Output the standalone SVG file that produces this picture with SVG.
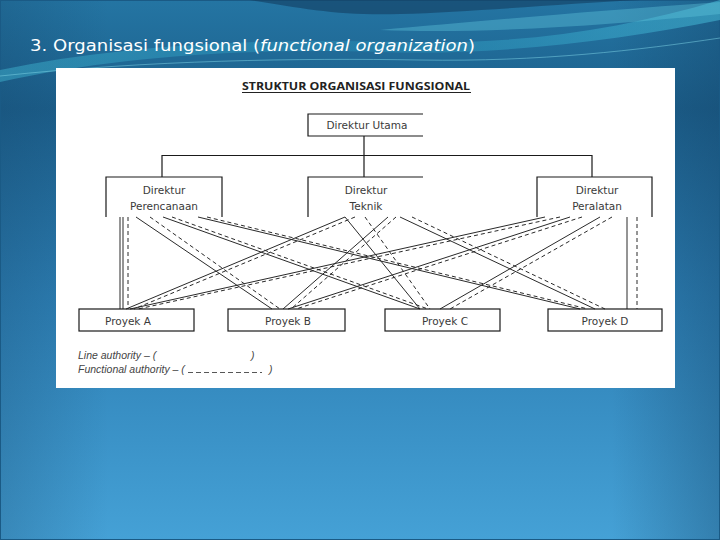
<svg xmlns="http://www.w3.org/2000/svg" width="720" height="540" viewBox="0 0 720 540">
<defs>
<linearGradient id="bg" x1="0" y1="0" x2="0" y2="1">
<stop offset="0" stop-color="#2475a3"/>
<stop offset="0.2" stop-color="#1c5f8b"/>
<stop offset="0.55" stop-color="#2d7fb4"/>
<stop offset="1" stop-color="#45a1d6"/>
</linearGradient>
<linearGradient id="side" x1="0" y1="0" x2="1" y2="0">
<stop offset="0" stop-color="#123f63" stop-opacity="0.25"/>
<stop offset="0.15" stop-color="#123f63" stop-opacity="0"/>
<stop offset="0.85" stop-color="#123f63" stop-opacity="0"/>
<stop offset="1" stop-color="#123f63" stop-opacity="0.35"/>
</linearGradient>
<linearGradient id="swoosh" x1="0" y1="0" x2="1" y2="0">
<stop offset="0" stop-color="#3fb3cf" stop-opacity="0.7"/>
<stop offset="0.5" stop-color="#2a9cc2" stop-opacity="0.5"/>
<stop offset="1" stop-color="#45b9d6" stop-opacity="0.8"/>
</linearGradient>
<style>
.title{font-family:"DejaVu Sans",sans-serif;font-size:16px;fill:#ffffff}
.box{fill:none;stroke:#1a1a1a;stroke-width:1.2}
.lbl{font-family:"DejaVu Sans",sans-serif;font-size:10.5px;fill:#3a3a3a;text-anchor:middle}
.hdr{font-family:"Open Sans",sans-serif;font-size:10.5px;font-weight:bold;fill:#222;text-anchor:middle}
.tree{fill:none;stroke:#1a1a1a;stroke-width:1.2}
.sol{fill:none;stroke:#2a2a2a;stroke-width:1}
.dsh{fill:none;stroke:#2a2a2a;stroke-width:1;stroke-dasharray:4 3}
.leg{font-family:"Liberation Sans",sans-serif;font-size:10.5px;font-style:italic;fill:#444}
</style>
</defs>
<rect x="0" y="0" width="720" height="540" fill="url(#bg)"/>
<rect x="0" y="0" width="720" height="540" fill="url(#side)"/>
<path d="M0,0 H720 V540 H0 Z" fill="none" stroke="#1a5a85" stroke-width="2"/>
<path d="M0,82 C120,55 260,48 380,52 C500,56 620,40 720,20 L720,0 C620,30 520,45 400,42 C260,38 120,45 0,70 Z" fill="url(#swoosh)" opacity="0.7"/>
<path d="M0,76 C150,60 300,58 420,60 C540,62 640,50 720,38" fill="none" stroke="#7fd6e8" stroke-width="1" opacity="0.5"/>
<path d="M250,0 C300,8 340,16 400,14 C470,12 560,4 640,0 Z" fill="#123e60" opacity="0.6"/>
<path d="M380,30 C470,22 580,12 720,2 L720,14 C600,26 480,34 380,30 Z" fill="#5ec6dc" opacity="0.4"/>
<text class="title" x="30" y="51" textLength="445" lengthAdjust="spacingAndGlyphs">3. Organisasi fungsional (<tspan font-style="italic">functional organization</tspan>)</text>
<rect x="56" y="68" width="619" height="320" fill="#ffffff"/>
<text class="hdr" x="356" y="90" textLength="228" lengthAdjust="spacingAndGlyphs">STRUKTUR ORGANISASI FUNGSIONAL</text>
<line x1="242" y1="92.5" x2="471" y2="92.5" stroke="#222" stroke-width="1"/>
<g id="tree">
<path class="tree" d="M364,136 V177 M162,177 V155.5 H592 V177"/>
</g>
<g id="direktur-utama">
<path class="box" d="M423,114 H308 V136 H423"/>
<text class="lbl" x="367" y="129">Direktur Utama</text>
</g>
<g id="direktur-perencanaan">
<path class="box" d="M106,217 V177 H222 V217"/>
<text class="lbl" x="164" y="194">Direktur</text>
<text class="lbl" x="164" y="210">Perencanaan</text>
</g>
<g id="direktur-teknik">
<path class="box" d="M308,217 V177 H423"/>
<text class="lbl" x="366" y="194">Direktur</text>
<text class="lbl" x="366" y="210">Teknik</text>
</g>
<g id="direktur-peralatan">
<path class="box" d="M537,217 V177 H652 V217"/>
<text class="lbl" x="597" y="194">Direktur</text>
<text class="lbl" x="597" y="210">Peralatan</text>
</g>
<g id="connectors">
<line class="sol" x1="120" y1="217" x2="120" y2="309"/>
<line class="sol" x1="123" y1="217" x2="123" y2="309"/>
<line class="dsh" x1="128" y1="217" x2="128" y2="309"/>
<line class="sol" x1="627" y1="217" x2="627" y2="309"/>
<line class="dsh" x1="637" y1="217" x2="637" y2="309"/>
<line class="sol" x1="136" y1="217" x2="272" y2="309"/>
<line class="dsh" x1="150" y1="217" x2="280" y2="309"/>
<line class="sol" x1="163" y1="217" x2="420" y2="309"/>
<line class="dsh" x1="172" y1="217" x2="428" y2="309"/>
<line class="sol" x1="198" y1="217" x2="580" y2="309"/>
<line class="dsh" x1="207" y1="217" x2="588" y2="309"/>
<line class="sol" x1="345" y1="217" x2="126" y2="309"/>
<line class="dsh" x1="355" y1="217" x2="134" y2="309"/>
<line class="sol" x1="388" y1="217" x2="283" y2="309"/>
<line class="dsh" x1="396" y1="217" x2="291" y2="309"/>
<line class="sol" x1="345" y1="217" x2="420" y2="309"/>
<line class="dsh" x1="365" y1="217" x2="430" y2="309"/>
<line class="sol" x1="400" y1="217" x2="595" y2="309"/>
<line class="dsh" x1="412" y1="217" x2="605" y2="309"/>
<line class="sol" x1="545" y1="217" x2="130" y2="309"/>
<line class="dsh" x1="560" y1="217" x2="138" y2="309"/>
<line class="sol" x1="570" y1="217" x2="288" y2="309"/>
<line class="dsh" x1="582" y1="217" x2="296" y2="309"/>
<line class="sol" x1="600" y1="217" x2="440" y2="309"/>
<line class="dsh" x1="612" y1="217" x2="450" y2="309"/>
</g>
<g id="proyek-a">
<rect class="box" x="79" y="309" width="115" height="22" fill="#fff"/>
<text class="lbl" x="128" y="325">Proyek A</text>
</g>
<g id="proyek-b">
<rect class="box" x="228" y="309" width="117" height="22" fill="#fff"/>
<text class="lbl" x="288" y="325">Proyek B</text>
</g>
<g id="proyek-c">
<rect class="box" x="385" y="309" width="115" height="22" fill="#fff"/>
<text class="lbl" x="445" y="325">Proyek C</text>
</g>
<g id="proyek-d">
<rect class="box" x="548" y="309" width="114" height="22" fill="#fff"/>
<text class="lbl" x="605" y="325">Proyek D</text>
</g>
<g id="legend">
<text class="leg" x="78" y="359">Line authority – (</text>
<text class="leg" x="251" y="359">)</text>
<text class="leg" x="78" y="373">Functional authority – (</text>
<line x1="188" y1="372.5" x2="262" y2="372.5" stroke="#444" stroke-width="0.9" stroke-dasharray="5 3"/>
<text class="leg" x="269" y="373">)</text>
</g>
</svg>
